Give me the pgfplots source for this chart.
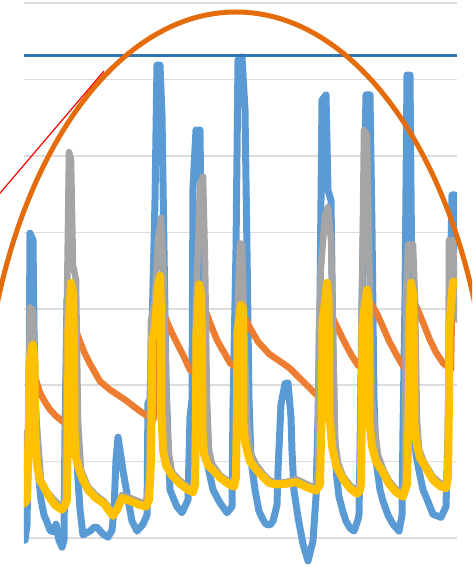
\documentclass[border=0pt]{standalone}
\usepackage{pgfplots}
\pgfplotsset{compat=1.18}
\definecolor{cblue}{HTML}{5B9BD5}
\definecolor{corange}{HTML}{ED7D31}
\definecolor{cgray}{HTML}{A5A5A5}
\definecolor{cyellow}{HTML}{FFC000}
\definecolor{cdark}{HTML}{2E75B6}
\definecolor{cell}{HTML}{E46C0A}
\definecolor{cgrid}{HTML}{DDDDDD}
\begin{document}
\begin{tikzpicture}[x=1pt,y=1pt]
\useasboundingbox (0,0) rectangle (472,568);
\clip (0,0) rectangle (472,568);
\begin{axis}[at={(24pt,0pt)}, anchor=south west, width=433pt, height=568pt, scale only axis,
  xmin=24, xmax=457, ymin=-0.393, ymax=7.042,
  axis line style={draw=none}, xtick=\empty, ytick={0,...,7}, yticklabels={},
  major tick length=0pt, ymajorgrids, grid style={draw=cgrid, line width=1.6pt},
  every axis plot/.append style={line join=round, line cap=round, mark=none}]
% blue series
\addplot[cblue, line width=7pt] coordinates {
(24,0.30) (25,-0.03) (27,0.17) (29,1.81) (30,3.99) (33,3.90) (34,2.72) (36,1.54) (38,0.89) (41,0.50)
(44,0.30) (47,0.21) (50,0.10) (53,0.08) (56,0.18) (59,-0.03) (62,-0.12) (64,-0.03) (65,1.41) (67,3.12)
(69,3.25) (72,2.46) (75,1.54) (78,0.76) (80,0.37) (83,0.04) (87,0.07) (90,0.09) (94,0.14) (97,0.14)
(103,0.05) (108,0.01) (112,0.10) (114,0.37) (116,1.02) (118,1.32) (120,1.15) (123,0.88) (127,0.58) (132,0.22)
(137,0.09) (143,0.18) (147,0.30) (148,1.77) (150,1.81) (152,2.72) (155,4.42) (157,6.19) (160,6.19) (162,5.54)
(164,3.77) (166,2.07) (168,1.28) (170,0.63) (174,0.50) (177,0.41) (182,0.33) (188,0.50) (190,1.58) (192,1.81)
(193,4.59) (196,5.34) (200,5.34) (202,3.12) (204,1.81) (206,1.28) (208,0.93) (213,0.63) (220,0.46) (227,0.33)
(232,0.41) (233,1.71) (236,3.77) (238,6.26) (242,6.30) (245,5.60) (247,3.77) (249,1.81) (251,1.02) (255,0.63)
(259,0.35) (263,0.24) (266,0.18) (270,0.17) (273,0.22) (277,0.43) (278,0.88) (281,1.75) (285,2.02) (288,2.03)
(291,1.58) (292,1.14) (294,0.62) (298,0.27) (303,-0.08) (308,-0.30) (313,-0.04) (316,0.54) (318,1.58) (320,3.12)
(322,5.73) (326,5.80) (328,4.55) (331,4.42) (333,2.46) (335,1.15) (337,0.76) (339,0.54) (343,0.34) (346,0.22)
(350,0.13) (354,0.09) (358,0.24) (359,0.31) (360,1.14) (362,3.12) (366,5.80) (370,5.80) (372,4.03) (374,1.81)
(376,1.02) (380,0.63) (383,0.48) (388,0.30) (393,0.18) (399,0.09) (402,0.30) (403,1.41) (405,3.12) (407,6.06)
(410,6.06) (412,3.12) (414,1.54) (416,1.09) (419,0.88) (423,0.63) (426,0.54) (433,0.31) (441,0.27) (446,0.41)
(448,1.36) (450,3.12) (452,4.49) (455,4.49) (457,3.77)
};
% orange series
\addplot[corange, line width=6.5pt] coordinates {
(31,2.23) (36,2.07) (40,1.90) (45,1.78) (50,1.68) (55,1.61) (62,1.53) (68,1.49)
(69,2.85) (74,2.79) (80,2.57) (85,2.41) (90,2.28) (100,2.05) (110,1.94) (117,1.88) (125,1.81) (133,1.73)
(140,1.66) (147,1.60) (154,1.56) (155,3.12) (160,3.05) (167,2.83) (172,2.68) (177,2.55) (184,2.37) (190,2.20)
(198,2.13) (199,3.18) (203,3.08) (207,2.92) (212,2.75) (217,2.59) (224,2.43) (230,2.29) (239,2.20) (240,2.98)
(245,2.88) (250,2.75) (258,2.57) (269,2.41) (279,2.32) (289,2.23) (303,2.05) (316,1.88) (323,1.83) (324,3.05)
(330,2.96) (336,2.79) (342,2.63) (347,2.50) (352,2.38) (358,2.26) (366,2.20) (367,3.12) (372,3.05) (378,2.91)
(383,2.76) (389,2.58) (396,2.41) (403,2.25) (408,2.20) (409,3.18) (414,3.09) (418,2.98) (424,2.79) (430,2.59)
(436,2.43) (443,2.29) (451,2.20) (452,3.12) (458,3.05)
};
% gray series
\addplot[cgray, line width=6.5pt] coordinates {
(24,1.37) (26,0.89) (28,1.41) (30,3.02) (33,2.98) (35,1.81) (38,1.28) (41,0.76) (45,0.63) (50,0.56)
(56,0.47) (62,0.42) (65,0.50) (67,3.12) (69,5.05) (71,4.95) (73,3.57) (76,3.38) (78,1.54) (81,0.89)
(88,0.67) (96,0.56) (104,0.48) (110,0.38) (113,0.33) (117,0.41) (122,0.56) (127,0.54) (133,0.51) (140,0.47)
(146,0.46) (149,0.76) (151,2.85) (155,3.12) (158,3.90) (161,4.19) (163,3.64) (165,2.72) (167,1.54) (169,1.09)
(172,0.86) (180,0.75) (188,0.67) (193,0.64) (195,0.89) (196,3.12) (198,3.77) (200,4.62) (203,4.73) (205,3.64)
(207,1.81) (209,1.15) (212,0.97) (220,0.82) (228,0.75) (234,0.71) (236,0.89) (238,3.12) (240,3.86) (242,3.84)
(244,2.85) (247,1.54) (250,1.13) (256,0.96) (263,0.84) (269,0.76) (276,0.72) (286,0.73) (296,0.77) (306,0.71)
(316,0.65) (318,0.89) (319,2.72) (321,3.55) (325,4.23) (328,4.33) (331,3.90) (333,2.72) (335,1.28) (338,0.98)
(343,0.81) (350,0.69) (357,0.62) (360,0.65) (362,3.12) (364,5.34) (367,5.27) (369,3.77) (372,1.81) (375,1.41)
(378,1.09) (383,0.90) (389,0.75) (396,0.64) (403,0.58) (405,0.76) (406,3.12) (408,3.84) (413,3.84) (415,3.12)
(417,1.54) (419,1.16) (424,0.99) (433,0.80) (440,0.72) (446,0.69) (448,1.02) (449,3.90) (453,3.90) (455,3.12)
(458,2.85)
};
% yellow series
\addplot[cyellow, line width=8pt] coordinates {
(24,0.45) (27,0.50) (29,1.50) (29.5,2.30) (32,2.50) (33,2.53) (34.5,2.30) (35,1.40) (37,0.95) (40,0.75)
(43,0.69) (48,0.56) (55,0.43) (62,0.37) (65,0.43)
(67,0.50) (68,1.60) (68.5,2.70) (71,3.34) (73,3.20) (74,2.50) (74.5,1.40) (76,1.05) (79,0.90) (82,0.79)
(88,0.63) (96,0.52) (104,0.45) (110,0.34) (113,0.29) (117,0.37) (122,0.52) (127,0.50) (133,0.47) (140,0.43) (146,0.41)
(149,0.50) (151,1.00) (152,2.00) (152.5,2.60) (155,2.75) (158,3.30) (160,3.43) (161,3.00) (161.5,1.60) (163,1.15)
(166,0.95) (172,0.82) (180,0.71) (188,0.63) (193,0.60)
(195,0.70) (196,1.60) (196.5,2.70) (199,3.32) (201,3.20) (202,2.50) (202.5,1.40) (204,1.10) (208,0.95) (212,0.90)
(220,0.79) (228,0.71) (234,0.67)
(236,0.80) (237,1.80) (237.5,2.70) (241,3.05) (243,3.00) (243.5,1.50) (245,1.25) (250,1.00) (256,0.90) (263,0.80)
(269,0.72) (276,0.70) (286,0.71) (296,0.73) (306,0.67) (316,0.62)
(320,0.70) (322,1.80) (322.5,2.80) (327,3.34) (328.5,3.10) (329,2.40) (329.5,1.60) (332,1.20) (336,0.95) (343,0.77)
(350,0.65) (357,0.58) (360,0.62)
(361,0.70) (362,1.80) (362.5,2.80) (367,3.25) (368.5,3.10) (369,2.40) (369.5,1.50) (372,1.20) (376,1.00) (383,0.86)
(389,0.71) (396,0.60) (403,0.54)
(407,0.70) (409,1.80) (409.5,2.80) (411,3.34) (413,3.20) (414,2.40) (414.5,1.50) (417,1.20) (420,1.05) (424,0.96)
(433,0.76) (440,0.68) (446,0.65)
(448,0.80) (449,1.80) (449.5,2.80) (453,3.35) (456,3.35) (460,3.30)
};
% target line
\addplot[cdark, line width=3pt, line cap=butt] coordinates {(24,6.32) (457,6.32)};
\end{axis}
\draw[cell, line width=5pt] (236pt,113pt) ellipse [x radius=254pt, y radius=443pt];
\draw[red, line width=1.2pt] (104pt,497pt) -- (-5pt,369pt);
\end{tikzpicture}
\end{document}
